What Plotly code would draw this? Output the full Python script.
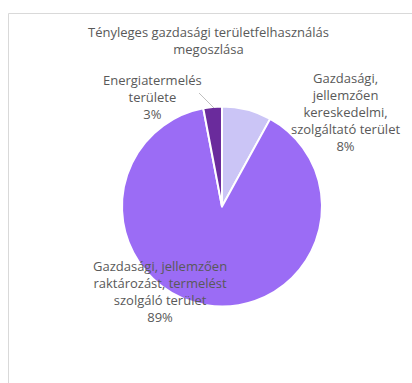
import plotly.graph_objects as go

# adatok
cimkek = ["Gazdasági, jellemzően kereskedelmi, szolgáltató terület",
          "Gazdasági, jellemzően raktározást, termelést szolgáló terület",
          "Energiatermelés területe"]
ertekek = [8, 89, 3]
szinek = ["#cbc5f6", "#9b6cf5", "#6a2b9c"]
cimke_sorok = [["Gazdasági,", "jellemzően", "kereskedelmi,", "szolgáltató terület"],
               ["Gazdasági, jellemzően", "raktározást, termelést", "szolgáló terület"],
               ["Energiatermelés", "területe"]]

W, H = 412, 383
fig = go.Figure(go.Pie(
    labels=cimkek, values=ertekek, sort=False, direction="clockwise", rotation=0,
    marker=dict(colors=szinek, line=dict(color="white", width=2)),
    textinfo="none", hoverinfo="label+percent",
    domain=dict(x=[122 / W, 322 / W], y=[1 - 307 / H, 1 - 106 / H]),
    showlegend=False,
))

szoveg = "#595959"
betu = "Open Sans"

def px_x(x):
    return x / W

def px_y(y):
    return 1 - y / H

annots = []
annots.append(dict(x=px_x(208), y=px_y(41), text="Tényleges gazdasági területfelhasználás<br>megoszlása",
                   font=dict(size=13, color=szoveg, family=betu)))
osszeg = sum(ertekek)
poz = [(345, 112), (160, 291), (152, 97)]
for sorok, v, (x, y) in zip(cimke_sorok, ertekek, poz):
    t = "<br>".join(sorok + [f"{round(100 * v / osszeg)}%"])
    annots.append(dict(x=px_x(x), y=px_y(y), text=t,
                       font=dict(size=13, color=szoveg, family=betu)))
for a in annots:
    a.update(xref="paper", yref="paper", showarrow=False, xanchor="center", yanchor="middle")

fig.update_layout(
    autosize=True, margin=dict(l=0, r=0, t=0, b=0),
    paper_bgcolor="white", plot_bgcolor="white",
    annotations=annots,
    shapes=[
        dict(type="rect", xref="paper", yref="paper", x0=px_x(8.5), y0=px_y(395), x1=px_x(420), y1=px_y(13.5),
             line=dict(color="#d9d9d9", width=1)),
        dict(type="line", xref="paper", yref="paper", x0=px_x(199), y0=px_y(93), x1=px_x(214), y1=px_y(108),
             line=dict(color="#bfbfbf", width=1)),
    ],
)

fig.write_html("out.html", default_width="100vw", default_height="100vh",
               config={"displayModeBar": False},
               post_script="document.body.style.margin='0';document.body.style.overflow='hidden';")
